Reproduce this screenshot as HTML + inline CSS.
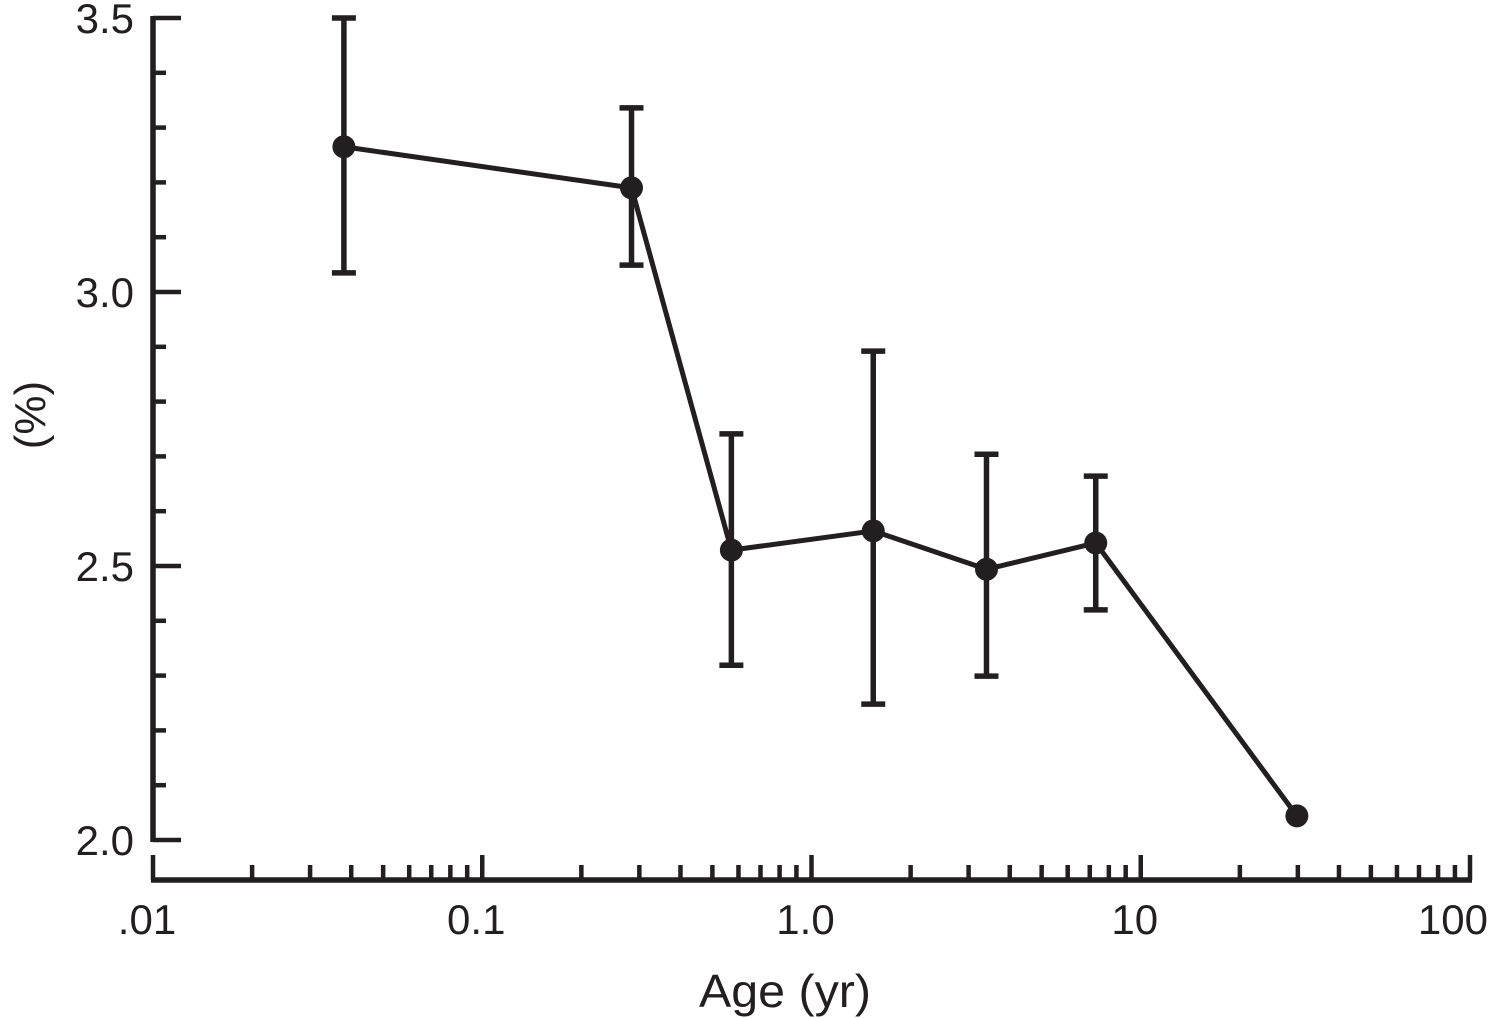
<!DOCTYPE html>
<html><head><meta charset="utf-8"><style>
html,body{margin:0;padding:0;background:#fff;}
svg{display:block;font-family:"Liberation Sans",Arial,sans-serif;}
</style></head><body>
<svg id="chart" width="1490" height="1018" viewBox="0 0 1490 1018" xmlns="http://www.w3.org/2000/svg"></svg>
<script>
const ages = [0.038, 0.284, 0.571, 1.54, 3.40, 7.3, 29.8];
const values = [3.265, 3.19, 2.529, 2.564, 2.494, 2.542, 2.044];
const errHigh = [3.5, 3.336, 2.741, 2.892, 2.704, 2.664, null];
const errLow = [3.035, 3.049, 2.319, 2.248, 2.299, 2.42, null];
const yTickLabels = ["2.0", "2.5", "3.0", "3.5"];
const yTickValues = [2.0, 2.5, 3.0, 3.5];
const xTickLabels = [".01", "0.1", "1.0", "10", "100"];
const xTickValues = [0.01, 0.1, 1, 10, 100];

const svg = document.getElementById('chart');
const NS = 'http://www.w3.org/2000/svg';
const C = '#231f20';
const X0 = 153, X1 = 1470, Y0 = 840, Y1 = 18, XA = 880;
function xs(v){ return X0 + (Math.log10(v) + 2) / 4 * (X1 - X0); }
function ys(v){ return Y0 - (v - 2) / 1.5 * (Y0 - Y1); }
function mk(tag, attrs){ const e = document.createElementNS(NS, tag); for (const k in attrs) e.setAttribute(k, attrs[k]); svg.appendChild(e); return e; }
function line(x1,y1,x2,y2,w){ return mk('line',{x1,y1,x2,y2,stroke:C,'stroke-width':w||5}); }

let ya = line(X0, Y1-2, X0, Y0+2, 5.5);


for (let v = 2.0; v <= 3.5001; v += 0.1) {
  const major = Math.abs(v*2 - Math.round(v*2)) < 1e-6;
  const t = line(X0, ys(v), X0 + (major ? 28 : 13), ys(v), 4.5);
  
  
}
yTickLabels.forEach((lab, i) => {
  const t = mk('text', {x: 134, y: ys(yTickValues[i]) + 15, 'text-anchor': 'end', 'font-size': 42, fill: C});
  t.textContent = lab;
  
  
});
const yt = mk('text', {x: 0, y: 0, 'text-anchor': 'middle', 'font-size': 44, fill: C, transform: 'translate(45,415) rotate(-90)'});
yt.textContent = '(%)';



let xa = line(X0 - 2, XA, X1 + 2, XA, 5.5);


for (let d = -2; d <= 2; d++) {
  for (let m = 1; m <= 9; m++) {
    if (d === 2 && m > 1) break;
    const v = m * Math.pow(10, d);
    const t = line(xs(v), XA, xs(v), XA - (m === 1 ? 25 : 15), 4.5);
    
    
  }
}
xTickLabels.forEach((lab, i) => {
  const last = i === xTickLabels.length - 1;
  const t = mk('text', {x: last ? 1488 : xs(xTickValues[i]) - 6, y: 934, 'text-anchor': last ? 'end' : 'middle', 'font-size': 42, fill: C});
  t.textContent = lab;
  
  
});
const xt = mk('text', {x: 785, y: 1007, 'text-anchor': 'middle', 'font-size': 46, fill: C, textLength: 172, lengthAdjust: 'spacingAndGlyphs'});
xt.textContent = 'Age (yr)';



ages.forEach((a, i) => {
  if (errHigh[i] == null) return;
  const x = xs(a);
  const e = line(x, ys(errHigh[i]), x, ys(errLow[i]), 5.5);
  
  
  [errHigh[i], errLow[i]].forEach(v => {
    const c = line(x - 12, ys(v), x + 12, ys(v), 5.5);
    
    
  });
});
const pl = mk('polyline', {points: ages.map((a, i) => xs(a) + ',' + ys(values[i])).join(' '), fill: 'none', stroke: C, 'stroke-width': 5, 'stroke-linejoin': 'round'});


ages.forEach((a, i) => {
  const p = mk('circle', {cx: xs(a), cy: ys(values[i]), r: 11.5, fill: C});
  
  
});
</script>
</body></html>
